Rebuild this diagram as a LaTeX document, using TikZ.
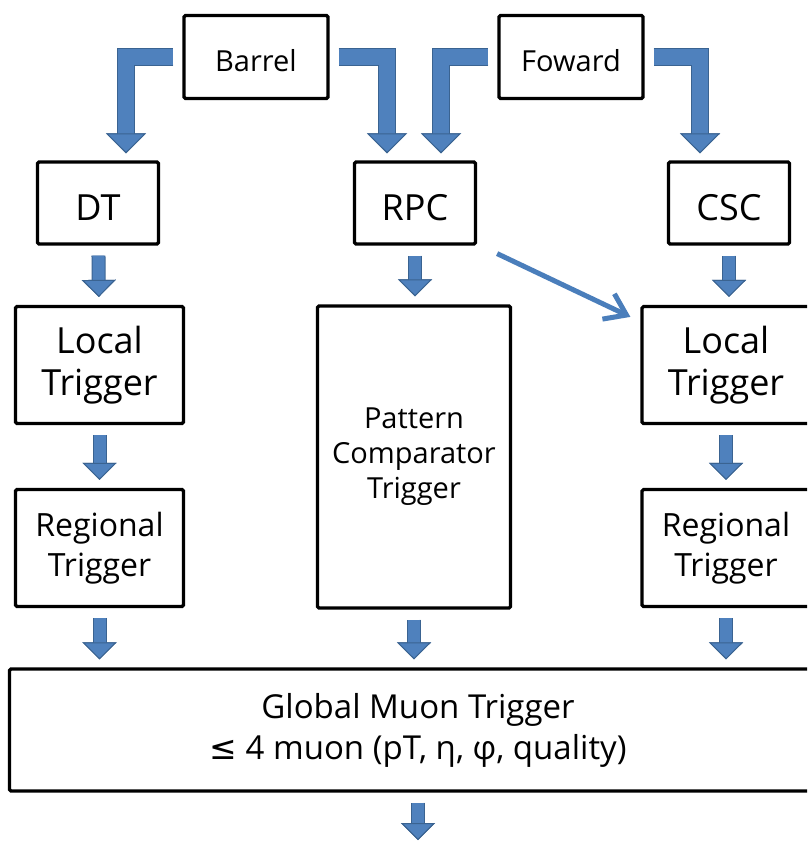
\documentclass[tikz,border=0pt]{standalone}
\usepackage{fontspec}
\setmainfont{Open Sans}
\newfontfamily\symfont{DejaVu Sans}
\usepackage{xcolor}
\usepackage{tikz}
\usetikzlibrary{arrows.meta,positioning}
\definecolor{arrowfill}{HTML}{4F81BD}
\definecolor{arrowedge}{HTML}{3A6391}
\definecolor{linkblue}{HTML}{4A7EBB}

\begin{document}
\begin{tikzpicture}[
                x=1pt, y=-1pt,
                box/.style={draw, line width=3.2pt, rounded corners=1.5pt, align=center, inner sep=0pt,
                    execute at begin node={\rule{0pt}{0.98em}}},
                src/.style={box, minimum width=144pt, minimum height=83pt, font=\fontsize{29}{34}\selectfont},
                det/.style={box, minimum width=121pt, minimum height=82pt, font=\fontsize{36}{42}\selectfont},
                loctrig/.style={box, minimum width=168pt, minimum height=117pt, font=\fontsize{36}{42}\selectfont},
                regtrig/.style={box, minimum width=168pt, minimum height=117pt, font=\fontsize{32}{40}\selectfont},
                pattrig/.style={box, minimum width=193pt, minimum height=302pt, font=\fontsize{29}{35}\selectfont},
                globtrig/.style={box, minimum width=817pt, minimum height=122pt, font=\fontsize{33}{41}\selectfont},
                smalltip/.tip={Triangle[length=17pt, width=34pt, line width=1pt, color=arrowedge, fill=arrowfill]},
                bigtip/.tip={Triangle[length=20pt, width=40pt, line width=1pt, color=arrowedge, fill=arrowfill]},
                blk/.style={draw=arrowfill, line width=12pt, -smalltip, shorten <=10pt, shorten >=8pt,
                    preaction={draw=arrowedge, line width=14pt}},
                bent/.style={draw=arrowfill, line width=16pt, -bigtip, shorten <=9pt, shorten >=7pt,
                    preaction={draw=arrowedge, line width=18pt}},
                link/.style={draw=linkblue, line width=5pt, -{Straight Barb[length=20pt, width=28pt]}}
            ]
            \clip (0,0) rectangle (807,842);
            \fill[white] (0,0) rectangle (807,842);
            \node[src] (barrel) at (256,57) {Barrel};
            \node[src] (foward) at (571,57) {Foward};
            \node[det] (dt) at (98,203) {DT};
            \node[det] (rpc) at (415,203) {RPC};
            \node[det] (csc) at (729,203) {CSC};
            \node[loctrig] (loc1) at (99.5,365) {Local\\Trigger};
            \node[pattrig] (pct) at (414,457) {Pattern\\Comparator\\Trigger};
            \node[loctrig] (loc2) at (726,365) {Local\\Trigger};
            \node[regtrig] (reg1) at (99.5,548) {Regional\\Trigger};
            \node[regtrig] (reg2) at (726,548) {Regional\\Trigger};
            \node[globtrig] (glob) at (418,730) {Global Muon Trigger\\{\symfont ≤} 4 muon (pT, η, φ, quality)};
            \coordinate (out) at (418,840);
            \draw[bent] (barrel.west) -| ([xshift=28pt]dt.north);
            \draw[bent] (barrel.east) -| ([xshift=-28pt]rpc.north);
            \draw[bent] (foward.west) -| ([xshift=26pt]rpc.north);
            \draw[bent] (foward.east) -| ([xshift=-29pt]csc.north);
            \draw[blk] (dt) -- (loc1);
            \draw[blk] (rpc) -- (rpc |- pct.north);
            \draw[blk] (csc) -- (csc |- loc2.north);
            \draw[blk] (loc1) -- (reg1);
            \draw[blk] (loc2) -- (reg2);
            \draw[blk] (reg1) -- (reg1 |- glob.north);
            \draw[blk] (pct) -- (pct |- glob.north);
            \draw[blk] (reg2) -- (reg2 |- glob.north);
            \draw[blk, shorten >=0pt] (glob) -- (out);
            \draw[link] ([xshift=20pt,yshift=-8pt]rpc.south east) -- ([xshift=-10pt,yshift=-12pt]loc2.north west);
        \end{tikzpicture}
\end{document}
